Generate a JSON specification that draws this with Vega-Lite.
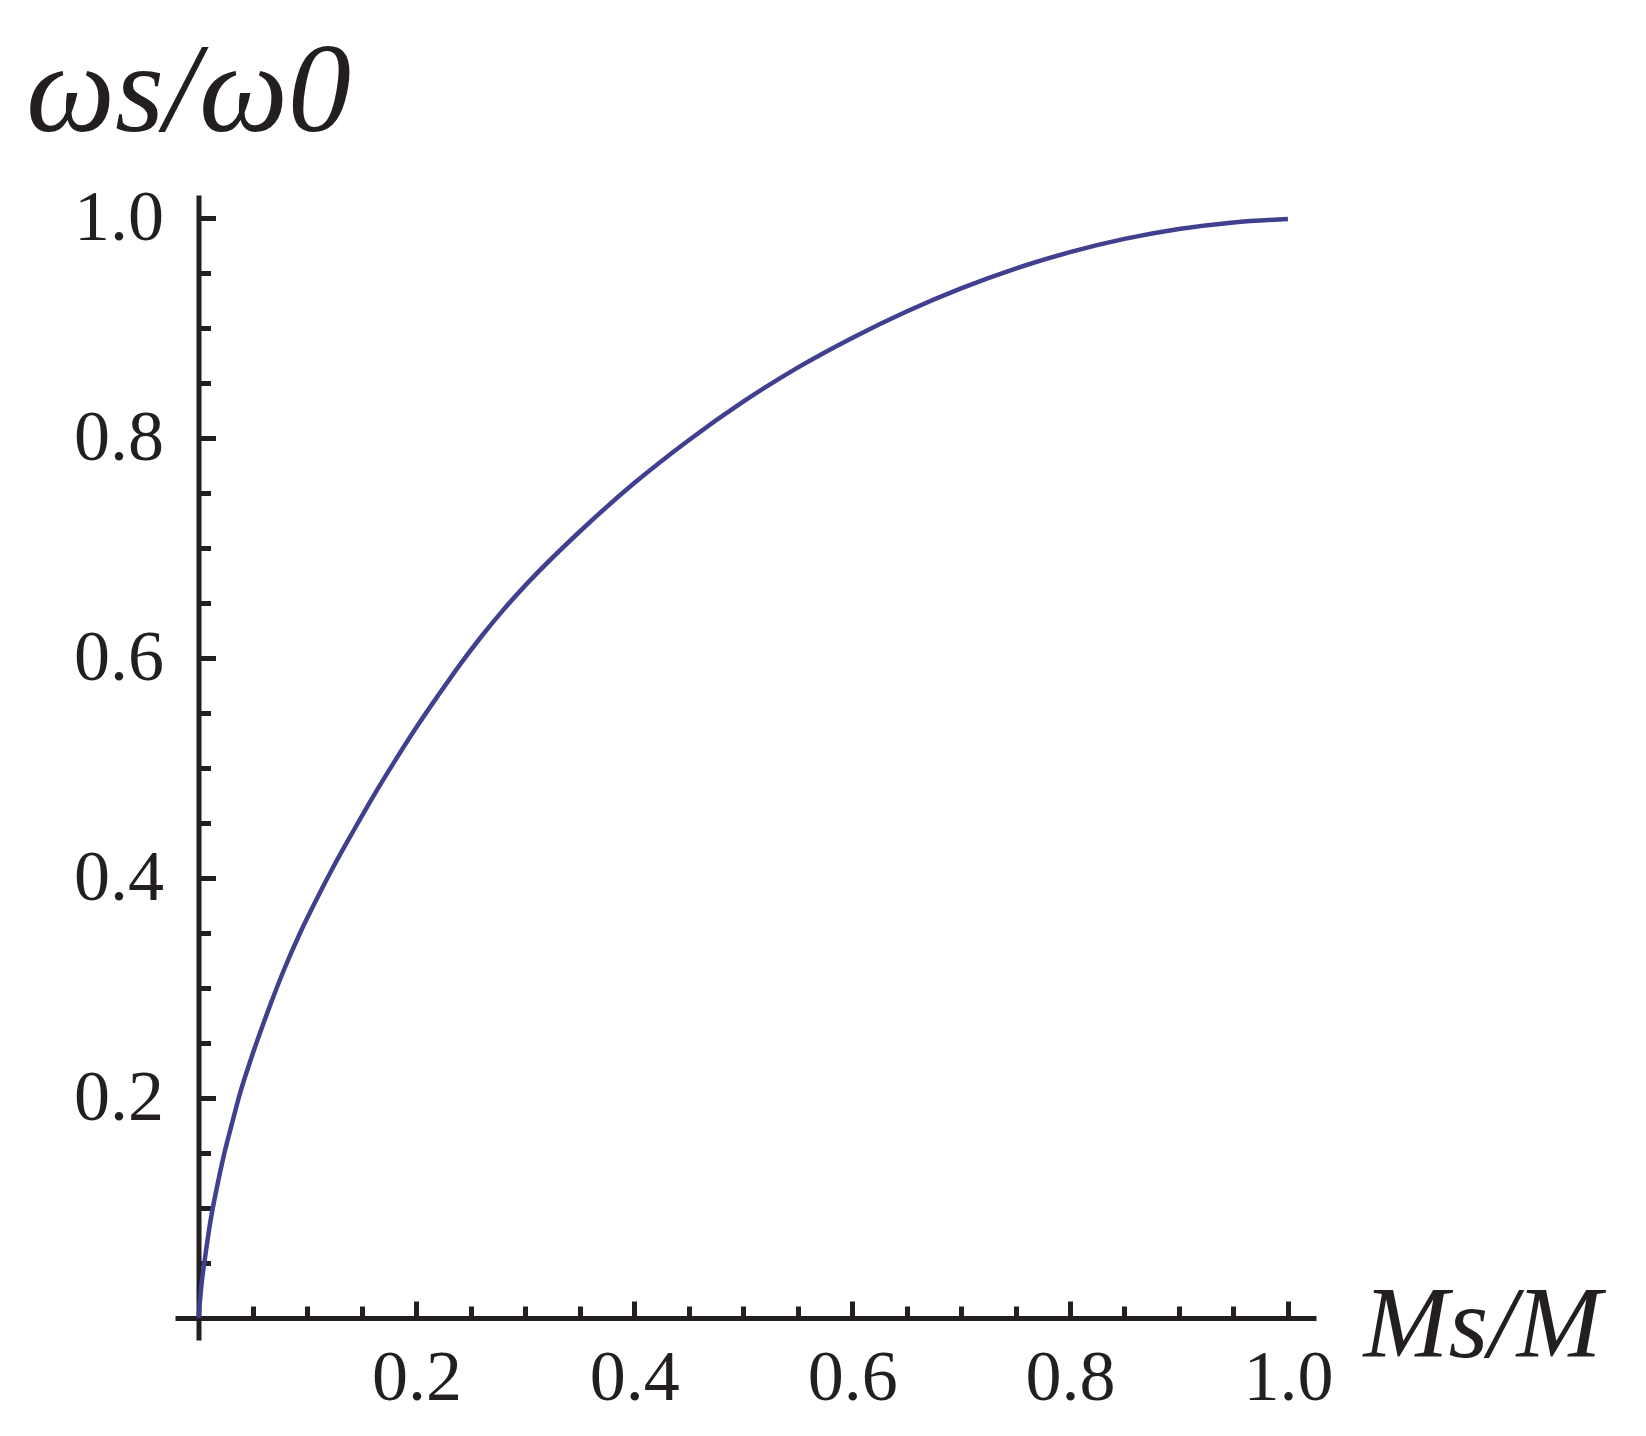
{
  "$schema": "https://vega.github.io/schema/vega-lite/v6.json",
  "width": 1141,
  "height": 1145,
  "autosize": {"type": "none"},
  "padding": {"left": 175, "top": 195, "right": 330, "bottom": 96},
  "background": "white",
  "config": {"view": {"stroke": null}},
  "data": {"values": [
    {"ms": 0.0, "w": 0.0},
    {"ms": 0.003, "w": 0.033},
    {"ms": 0.006, "w": 0.055},
    {"ms": 0.0106, "w": 0.086},
    {"ms": 0.0167, "w": 0.118},
    {"ms": 0.0228, "w": 0.146},
    {"ms": 0.0305, "w": 0.176},
    {"ms": 0.038, "w": 0.204},
    {"ms": 0.0473, "w": 0.233},
    {"ms": 0.0564, "w": 0.259},
    {"ms": 0.0656, "w": 0.284},
    {"ms": 0.0778, "w": 0.315},
    {"ms": 0.0932, "w": 0.35},
    {"ms": 0.1085, "w": 0.381},
    {"ms": 0.1237, "w": 0.41},
    {"ms": 0.142, "w": 0.4425},
    {"ms": 0.16, "w": 0.4735},
    {"ms": 0.18, "w": 0.506},
    {"ms": 0.2, "w": 0.537},
    {"ms": 0.22, "w": 0.566},
    {"ms": 0.24, "w": 0.594},
    {"ms": 0.26, "w": 0.62},
    {"ms": 0.28, "w": 0.644},
    {"ms": 0.3, "w": 0.666},
    {"ms": 0.35, "w": 0.715},
    {"ms": 0.4, "w": 0.759},
    {"ms": 0.45, "w": 0.798},
    {"ms": 0.5, "w": 0.833},
    {"ms": 0.55, "w": 0.864},
    {"ms": 0.6, "w": 0.891},
    {"ms": 0.65, "w": 0.915},
    {"ms": 0.7, "w": 0.936},
    {"ms": 0.75, "w": 0.954},
    {"ms": 0.8, "w": 0.969},
    {"ms": 0.85, "w": 0.981},
    {"ms": 0.9, "w": 0.99},
    {"ms": 0.95, "w": 0.996},
    {"ms": 1.0, "w": 0.999}
  ]},
  "resolve": {"axis": {"x": "independent", "y": "independent"}},
  "layer": [
    {
      "mark": {"type": "line", "color": "#40408f", "strokeWidth": 4.5, "interpolate": "monotone"},
      "encoding": {
        "x": {
          "field": "ms", "type": "quantitative",
          "scale": {"domain": [-0.0216, 1.0258], "nice": false, "zero": false},
          "axis": {
            "orient": "bottom", "offset": -22,
            "values": [0.2, 0.4, 0.6, 0.8, 1.0], "format": ".1f",
            "grid": false,
            "domain": true, "domainColor": "#231f20", "domainWidth": 5,
            "ticks": true, "tickSize": -17, "tickWidth": 5, "tickColor": "#231f20",
            "labelFont": "Liberation Serif", "labelFontSize": 72, "labelColor": "#231f20",
            "labelPadding": 41, "labelBaseline": "top", "labelAlign": "center",
            "labelFlush": false, "labelOverlap": false,
            "title": "Ms/M",
            "titleFont": "Liberation Serif", "titleFontSize": 102, "titleFontStyle": "italic",
            "titleFontWeight": "normal", "titleColor": "#231f20",
            "titleAlign": "left", "titleBaseline": "alphabetic", "titleAngle": 0,
            "titleX": 1188, "titleY": 38
          }
        },
        "y": {
          "field": "w", "type": "quantitative",
          "scale": {"domain": [-0.02, 1.0209], "nice": false, "zero": false},
          "axis": {
            "orient": "left", "offset": -23.5,
            "values": [0.2, 0.4, 0.6, 0.8, 1.0], "format": ".1f",
            "grid": false,
            "domain": true, "domainColor": "#231f20", "domainWidth": 5,
            "ticks": true, "tickSize": -17, "tickWidth": 5, "tickColor": "#231f20",
            "labelFont": "Liberation Serif", "labelFontSize": 72, "labelColor": "#231f20",
            "labelPadding": 52, "labelBaseline": "middle", "labelAlign": "right",
            "labelFlush": false, "labelOverlap": false,
            "title": "ωs/ω0",
            "titleFont": "Liberation Serif", "titleFontSize": 126, "titleFontStyle": "italic",
            "titleFontWeight": "normal", "titleColor": "#231f20",
            "titleAlign": "left", "titleBaseline": "alphabetic", "titleAngle": 0,
            "titleX": -173, "titleY": -65
          }
        }
      }
    },
    {
      "mark": {"type": "point", "opacity": 0, "size": 1},
      "encoding": {
        "x": {
          "field": "ms", "type": "quantitative",
          "axis": {
            "orient": "bottom", "offset": -22,
            "values": [0.05, 0.1, 0.15, 0.25, 0.3, 0.35, 0.45, 0.5, 0.55, 0.65, 0.7, 0.75, 0.85, 0.9, 0.95],
            "grid": false, "domain": false, "labels": false,
            "ticks": true, "tickSize": -12, "tickWidth": 5, "tickColor": "#231f20",
            "title": null
          }
        },
        "y": {
          "field": "w", "type": "quantitative",
          "axis": {
            "orient": "left", "offset": -23.5,
            "values": [0.05, 0.1, 0.15, 0.25, 0.3, 0.35, 0.45, 0.5, 0.55, 0.65, 0.7, 0.75, 0.85, 0.9, 0.95],
            "grid": false, "domain": false, "labels": false,
            "ticks": true, "tickSize": -12, "tickWidth": 5, "tickColor": "#231f20",
            "title": null
          }
        }
      }
    }
  ]
}
